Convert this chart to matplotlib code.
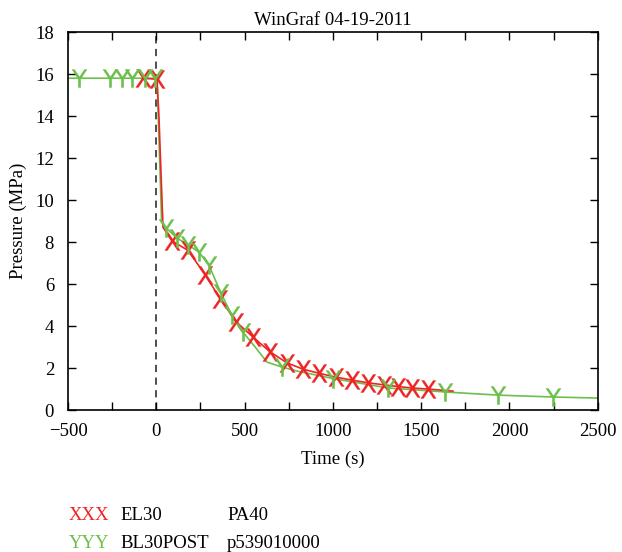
import matplotlib
matplotlib.use("Agg")
import matplotlib.pyplot as plt
from matplotlib.ticker import MultipleLocator

# EL30 / PA40 (red)
red_t = [-75, 4, 15, 38, 90, 180, 276, 362, 452, 547, 643, 739, 830, 921,
         1015, 1106, 1197, 1288, 1367, 1446, 1537, 1680]
red_p = [15.8, 15.75, 14.0, 8.7, 8.05, 7.6, 6.45, 5.3, 4.2, 3.48, 2.78, 2.25,
         1.95, 1.75, 1.57, 1.43, 1.3, 1.2, 1.12, 1.05, 1.0, 0.9]
red_mark_t = [-75, 4, 90, 180, 276, 362, 452, 547, 643, 739, 830, 921,
              1015, 1106, 1197, 1288, 1367, 1446, 1537]
red_mark_p = [15.8, 15.75, 8.05, 7.6, 6.45, 5.3, 4.2, 3.48, 2.78, 2.25,
              1.95, 1.75, 1.57, 1.43, 1.3, 1.2, 1.12, 1.05, 1.0]

# BL30POST / p539010000 (green)
green_t = [-500, 0, 5, 30, 55, 118, 180, 242, 298, 366, 428, 491, 560, 627,
           711, 800, 1000, 1312, 1635, 1935, 2246, 2500]
green_p = [15.8, 15.8, 15.6, 9.0, 8.67, 8.19, 7.86, 7.52, 6.9, 5.57, 4.52,
           3.71, 3.0, 2.28, 2.05, 1.85, 1.5, 1.05, 0.86, 0.71, 0.62, 0.57]
green_mark_t = [-437, -262, -195, -138, -64, -7, 55, 118, 180, 242, 298,
                366, 428, 491, 711, 1000, 1312, 1635, 1935, 2246]
green_mark_p = [15.8, 15.8, 15.8, 15.8, 15.8, 15.8, 8.67, 8.19, 7.86, 7.52,
                6.9, 5.57, 4.52, 3.71, 2.05, 1.5, 1.05, 0.86, 0.71, 0.62]

red = "#ee2424"
green = "#6cbf4a"
fs = 13.5

plt.rcParams['font.family'] = ['Liberation Serif', 'DejaVu Serif']
plt.rcParams['mathtext.fontset'] = 'dejavusans'

fig = plt.figure(figsize=(6.22, 5.52), dpi=100)
ax = fig.add_axes([0.1093, 0.2572, 0.8517, 0.6848])

ax.axvline(0, color="#404040", linestyle=(0, (4, 3)), linewidth=1.3, zorder=1)

ax.plot(red_t, red_p, color=red, linewidth=1.2, zorder=3)
ax.plot(green_t, green_p, color=green, linewidth=1.2, zorder=2)
ax.plot(red_mark_t, red_mark_p, linestyle="none", marker=r"$\mathsf{X}$",
        markersize=13, markeredgewidth=0.2, color=red, zorder=4)
ax.plot(green_mark_t, green_mark_p, linestyle="none", marker=r"$\mathsf{Y}$",
        markersize=13, markeredgewidth=0.2, color=green, zorder=4)

ax.set_xlim(-500, 2500)
ax.set_ylim(0, 18)
ax.xaxis.set_major_locator(MultipleLocator(500))
ax.xaxis.set_minor_locator(MultipleLocator(250))
ax.yaxis.set_major_locator(MultipleLocator(2))
ax.tick_params(which="both", direction="in", top=True, right=True,
               length=6, width=1, labelsize=fs)
ax.tick_params(axis="x", pad=9)
ax.tick_params(axis="y", pad=10)
for s in ax.spines.values():
    s.set_linewidth(1.2)

ax.set_title("WinGraf 04-19-2011", fontsize=fs, pad=5)
ax.set_xlabel("Time (s)", fontsize=fs, labelpad=8)
ax.set_ylabel("Pressure (MPa)", fontsize=fs, labelpad=6)

# legend block below the axes
row1 = 1 - 516 / 552
row2 = 1 - 543 / 552
fig.text(0.111, row1, "XXX", color=red, fontsize=fs, va="center")
fig.text(0.193, row1, "EL30", fontsize=fs, va="center")
fig.text(0.365, row1, "PA40", fontsize=fs, va="center")
fig.text(0.111, row2, "YYY", color=green, fontsize=fs, va="center")
fig.text(0.193, row2, "BL30POST", fontsize=fs, va="center")
fig.text(0.365, row2, "p539010000", fontsize=fs, va="center")

fig.savefig("out.png", dpi=100)
